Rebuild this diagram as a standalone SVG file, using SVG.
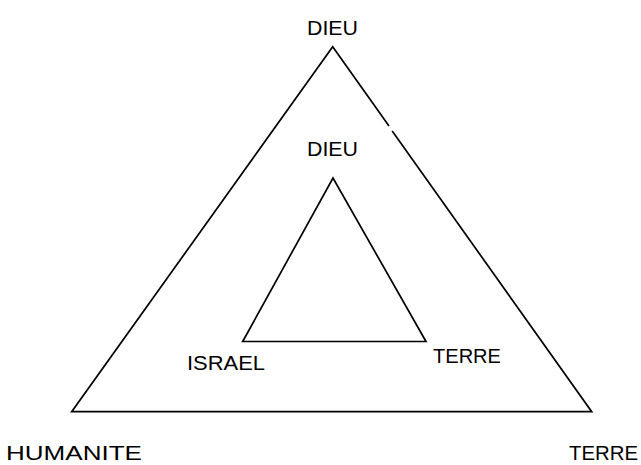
<svg xmlns="http://www.w3.org/2000/svg" width="641" height="465" viewBox="0 0 641 465">
<style>
.l{stroke:#000;stroke-width:1.7;fill:none;stroke-linejoin:miter}
.t{font-family:"Liberation Sans",Arial,sans-serif;font-size:21px;fill:#000}
</style>
<rect width="641" height="465" fill="#fff"/>
<g id="connectors">
<polyline class="l" points="389,126 332.7,46.7 71.7,411.7 591.7,411.7 392.2,131"/>
<polyline class="l" points="273,341.5 242.7,341.5 333,178 426,341.5 273,341.5"/>
</g>
<g id="dieu-outer"><text class="t" x="307" y="35" textLength="51" lengthAdjust="spacingAndGlyphs">DIEU</text></g>
<g id="dieu-inner"><text class="t" x="307" y="156" textLength="51" lengthAdjust="spacingAndGlyphs">DIEU</text></g>
<g id="israel"><text class="t" x="187" y="370" textLength="78" lengthAdjust="spacingAndGlyphs">ISRAEL</text></g>
<g id="terre-inner"><text class="t" x="433" y="363" textLength="68" lengthAdjust="spacingAndGlyphs">TERRE</text></g>
<g id="humanite"><text class="t" x="6" y="460" textLength="136" lengthAdjust="spacingAndGlyphs">HUMANITE</text></g>
<g id="terre-outer"><text class="t" x="569" y="460" textLength="69" lengthAdjust="spacingAndGlyphs">TERRE</text></g>
</svg>
